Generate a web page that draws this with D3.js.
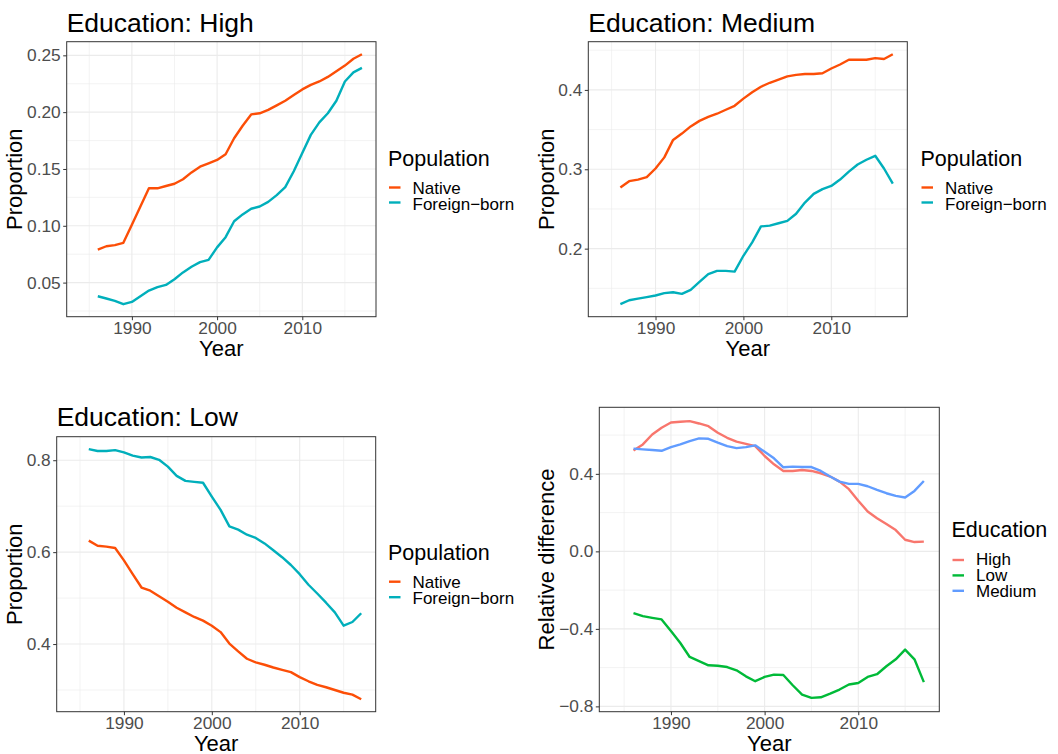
<!DOCTYPE html>
<html>
<head>
<meta charset="utf-8">
<script src="https://cdn.jsdelivr.net/npm/d3@7"></script>
<style>
  html, body { margin: 0; padding: 0; background: #fff; }
  svg { display: block; font-family: "Liberation Sans", Arial, sans-serif; }
</style>
</head>
<body>
<svg id="chart" width="1058" height="754"></svg>
<script>
// ---------------- DATA ----------------
const years = [1986,1987,1988,1989,1990,1991,1992,1993,1994,1995,1996,1997,1998,1999,2000,2001,
               2002,2003,2004,2005,2006,2007,2008,2009,2010,2011,2012,2013,2014,2015,2016,2017];
const yearAxisRange = [1984, 2017];
const yearTicks = [1990, 2000, 2010];
const yearMinorTicks = [1985, 1995, 2005, 2015];

const populations = ["Native", "Foreign\u2212born"];
const educations = ["High", "Low", "Medium"];

const highNative   = [0.079,0.082,0.083,0.085,0.101,0.117,0.133,0.133,0.135,0.137,0.141,0.147,0.152,0.155,0.158,0.163,
                      0.177,0.188,0.198,0.199,0.202,0.206,0.210,0.215,0.220,0.224,0.227,0.231,0.236,0.241,0.247,0.251];
const highForeign  = [0.038,0.036,0.034,0.031,0.033,0.038,0.043,0.046,0.048,0.053,0.059,0.064,0.068,0.070,0.081,0.090,
                      0.104,0.110,0.115,0.117,0.121,0.127,0.134,0.148,0.164,0.180,0.191,0.199,0.210,0.227,0.235,0.239];
const mediumNative = [0.277,0.285,0.287,0.290,0.301,0.315,0.337,0.345,0.354,0.361,0.366,0.370,0.375,0.380,0.389,0.397,
                      0.404,0.409,0.413,0.417,0.419,0.420,0.420,0.421,0.427,0.432,0.438,0.438,0.438,0.440,0.439,0.445];
const mediumForeign= [0.130,0.135,0.137,0.139,0.141,0.144,0.145,0.143,0.148,0.158,0.168,0.172,0.172,0.171,0.191,0.208,
                      0.228,0.229,0.232,0.235,0.244,0.258,0.269,0.275,0.279,0.287,0.297,0.306,0.312,0.317,0.301,0.282];
const lowNative    = [0.625,0.614,0.612,0.609,0.582,0.552,0.523,0.516,0.504,0.492,0.479,0.469,0.459,0.451,0.440,0.426,
                      0.401,0.384,0.368,0.360,0.355,0.349,0.344,0.339,0.328,0.319,0.311,0.306,0.300,0.294,0.290,0.280];
const lowForeign   = [0.824,0.820,0.820,0.822,0.817,0.810,0.806,0.807,0.801,0.786,0.766,0.755,0.753,0.751,0.721,0.692,
                      0.656,0.649,0.638,0.631,0.619,0.604,0.589,0.572,0.552,0.529,0.510,0.490,0.469,0.440,0.448,0.467];
const diffHigh     = [0.521,0.552,0.603,0.638,0.665,0.669,0.672,0.660,0.646,0.612,0.586,0.566,0.555,0.543,0.492,0.449,
                      0.415,0.415,0.420,0.415,0.403,0.386,0.360,0.321,0.261,0.206,0.171,0.141,0.110,0.060,0.048,0.050];
const diffLow      = [-0.319,-0.334,-0.343,-0.351,-0.411,-0.473,-0.545,-0.566,-0.588,-0.590,-0.597,-0.614,-0.645,-0.670,-0.648,-0.636,
                      -0.638,-0.691,-0.739,-0.756,-0.753,-0.734,-0.713,-0.687,-0.679,-0.648,-0.634,-0.593,-0.557,-0.507,-0.557,-0.675];
const diffMedium   = [0.530,0.526,0.523,0.519,0.538,0.552,0.569,0.583,0.581,0.561,0.543,0.533,0.538,0.547,0.514,0.480,
                      0.434,0.437,0.435,0.435,0.415,0.386,0.360,0.348,0.348,0.336,0.317,0.300,0.286,0.278,0.312,0.363];

const highTicks = [0.05, 0.10, 0.15, 0.20, 0.25];
const highMinor = [0.025, 0.075, 0.125, 0.175, 0.225];
const mediumTicks = [0.2, 0.3, 0.4];
const mediumMinor = [0.15, 0.25, 0.35, 0.45];
const lowTicks = [0.4, 0.6, 0.8];
const lowMinor = [0.3, 0.5, 0.7];
const diffTicks = [-0.8, -0.4, 0.0, 0.4];
const diffMinor = [-0.6, -0.2, 0.2, 0.6];

const popColors = ["#FC4E07", "#00AFBB"];
const eduColors = ["#F8766D", "#00BA38", "#619CFF"];

// ---------------- DRAWING ----------------
const svg = d3.select("#chart");
svg.append("rect").attr("width", 1058).attr("height", 754).attr("fill", "#fff");

function expand(ext, f) { const d = ext[1] - ext[0]; return [ext[0] - d * f, ext[1] + d * f]; }

function drawPanel(cfg) {
  const g = svg.append("g");
  const allVals = cfg.series.flatMap(s => s.values);
  const x = d3.scaleLinear().domain(expand(yearAxisRange, 0.05)).range([cfg.left, cfg.right]);
  const y = d3.scaleLinear().domain(expand(d3.extent(allVals), 0.05)).range([cfg.bottom, cfg.top]);

  // minor grid
  g.selectAll(".ymin").data(cfg.yMinor.filter(v => v >= y.domain()[0] && v <= y.domain()[1])).join("line")
    .attr("x1", cfg.left).attr("x2", cfg.right).attr("y1", d => y(d)).attr("y2", d => y(d))
    .attr("stroke", "#EBEBEB").attr("stroke-width", 0.6);
  g.selectAll(".xmin").data(yearMinorTicks).join("line")
    .attr("y1", cfg.top).attr("y2", cfg.bottom).attr("x1", d => x(d)).attr("x2", d => x(d))
    .attr("stroke", "#EBEBEB").attr("stroke-width", 0.6);
  // major grid
  g.selectAll(".ymaj").data(cfg.yTicks).join("line")
    .attr("x1", cfg.left).attr("x2", cfg.right).attr("y1", d => y(d)).attr("y2", d => y(d))
    .attr("stroke", "#EBEBEB").attr("stroke-width", 1.1);
  g.selectAll(".xmaj").data(yearTicks).join("line")
    .attr("y1", cfg.top).attr("y2", cfg.bottom).attr("x1", d => x(d)).attr("x2", d => x(d))
    .attr("stroke", "#EBEBEB").attr("stroke-width", 1.1);

  // lines
  const line = d3.line().x((d, i) => x(years[i])).y(d => y(d));
  cfg.series.forEach(s => {
    g.append("path").datum(s.values).attr("d", line)
      .attr("fill", "none").attr("stroke", s.color).attr("stroke-width", 2.4)
      .attr("stroke-linejoin", "round").attr("stroke-linecap", "butt");
  });

  // border
  g.append("rect").attr("x", cfg.left).attr("y", cfg.top)
    .attr("width", cfg.right - cfg.left).attr("height", cfg.bottom - cfg.top)
    .attr("fill", "none").attr("stroke", "#333333").attr("stroke-width", 1);

  // axes
  const yAxis = d3.axisLeft(y).tickValues(cfg.yTicks).tickFormat(d3.format(cfg.fmt)).tickSize(3.5).tickPadding(2.5);
  const ya = g.append("g").attr("transform", `translate(${cfg.left},0)`).call(yAxis);
  const xAxis = d3.axisBottom(x).tickValues(yearTicks).tickFormat(d3.format("d")).tickSize(3.5).tickPadding(2);
  const xa = g.append("g").attr("transform", `translate(0,${cfg.bottom})`).call(xAxis);
  [ya, xa].forEach(a => {
    a.select(".domain").remove();
    a.selectAll(".tick line").attr("stroke", "#333333").attr("stroke-width", 1);
    a.selectAll(".tick text").attr("fill", "#4D4D4D").style("font-size", "17.3px")
      .style("font-family", "'Liberation Sans', Arial, sans-serif");
  });

  // axis titles
  g.append("text").attr("x", (cfg.left + cfg.right) / 2).attr("y", cfg.bottom + 39.3)
    .attr("text-anchor", "middle").style("font-size", "22px").attr("fill", "#000").text("Year");
  g.append("text").attr("transform", `translate(${cfg.ylabelX},${(cfg.top + cfg.bottom) / 2}) rotate(-90)`)
    .attr("text-anchor", "middle").style("font-size", "22px").attr("fill", "#000").text(cfg.ylabel);

  // title
  if (cfg.title) {
    g.append("text").attr("x", cfg.left).attr("y", cfg.titleY)
      .style("font-size", "26.5px").attr("fill", "#000").text(cfg.title);
  }

  // legend
  const L = cfg.legend;
  const lg = g.append("g");
  lg.append("text").attr("x", L.x).attr("y", L.titleY).style("font-size", "21.5px").attr("fill", "#000").text(L.title);
  L.labels.forEach((lab, i) => {
    const ky = L.keyY + i * L.keyStep;
    lg.append("line").attr("x1", L.x + 1).attr("x2", L.x + 12.5).attr("y1", ky).attr("y2", ky)
      .attr("stroke", L.colors[i]).attr("stroke-width", 2.4);
    lg.append("text").attr("x", L.x + 24.5).attr("y", L.textY + i * L.textStep)
      .style("font-size", "17px").attr("fill", "#000").text(lab);
  });
}

drawPanel({
  left: 66.7, right: 376, top: 41.7, bottom: 316.7,
  series: [{values: highNative, color: popColors[0]}, {values: highForeign, color: popColors[1]}],
  yTicks: highTicks, yMinor: highMinor, fmt: ".2f",
  title: "Education: High", titleY: 31.7, ylabel: "Proportion", ylabelX: 21.7,
  legend: {title: "Population", x: 388, titleY: 166, keyY: 187.5, keyStep: 15, textY: 193.5, textStep: 16.5,
           labels: populations, colors: popColors}
});
drawPanel({
  left: 588.3, right: 907.3, top: 41.7, bottom: 316.7,
  series: [{values: mediumNative, color: popColors[0]}, {values: mediumForeign, color: popColors[1]}],
  yTicks: mediumTicks, yMinor: mediumMinor, fmt: ".1f",
  title: "Education: Medium", titleY: 31.7, ylabel: "Proportion", ylabelX: 554,
  legend: {title: "Population", x: 920.5, titleY: 166, keyY: 187.5, keyStep: 15, textY: 193.5, textStep: 16.5,
           labels: populations, colors: popColors}
});
drawPanel({
  left: 56.7, right: 375.7, top: 436.7, bottom: 711.7,
  series: [{values: lowNative, color: popColors[0]}, {values: lowForeign, color: popColors[1]}],
  yTicks: lowTicks, yMinor: lowMinor, fmt: ".1f",
  title: "Education: Low", titleY: 425.7, ylabel: "Proportion", ylabelX: 21.7,
  legend: {title: "Population", x: 388, titleY: 560, keyY: 581.7, keyStep: 15.5, textY: 587.5, textStep: 16.5,
           labels: populations, colors: populations.map((p, i) => popColors[i])}
});
drawPanel({
  left: 599.3, right: 939.3, top: 407.3, bottom: 711.7,
  series: [{values: diffHigh, color: eduColors[0]}, {values: diffLow, color: eduColors[1]}, {values: diffMedium, color: eduColors[2]}],
  yTicks: diffTicks, yMinor: diffMinor, fmt: ".1f",
  title: null, ylabel: "Relative difference", ylabelX: 554,
  legend: {title: "Education", x: 951.5, titleY: 536.7, keyY: 560, keyStep: 15.4, textY: 565, textStep: 16.2,
           labels: educations, colors: eduColors}
});
</script>
</body>
</html>
